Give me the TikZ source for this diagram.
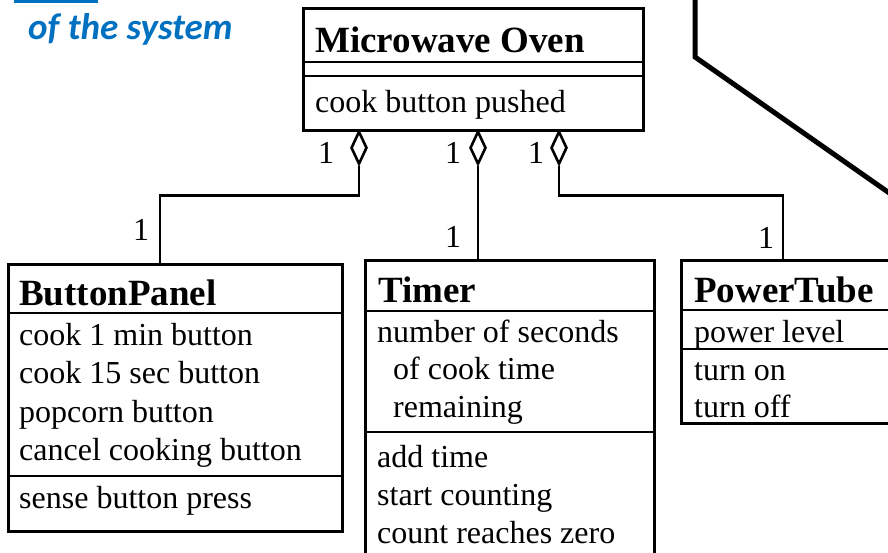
\documentclass[tikz,border=0pt]{standalone}
\usepackage{fontspec}
\setmainfont{Liberation Serif}
\newfontfamily\calib{Carlito}
\usetikzlibrary{shapes.geometric}
\definecolor{titleblue}{RGB}{0,112,192}
\tikzset{
 box/.style={draw, line width=2.6pt, anchor=north west, inner sep=0pt},
 sepline/.style={line width=2.6pt},
 txt/.style={anchor=base west, inner sep=0pt, font=\fontsize{32}{38}\selectfont},
 ttl/.style={anchor=base west, inner sep=0pt, font=\fontsize{37}{44}\selectfont\bfseries},
 mult/.style={inner sep=0pt, font=\fontsize{32}{38}\selectfont},
 agg/.style={draw, fill=white, shape=diamond, line width=2.6pt, inner sep=0pt, minimum width=16pt, minimum height=33pt, anchor=north},
 conn/.style={line width=2.6pt},
}
\begin{document}
\begin{tikzpicture}[x=1pt,y=-1pt]
\useasboundingbox (0,0) rectangle (888,552);
\clip (0,0) rectangle (888,552);
% heading fragment
\fill[titleblue] (14,0) rectangle (98,2.5);
\node[anchor=base west, inner sep=0pt, text=titleblue, font=\calib\fontsize{37}{43}\selectfont\bfseries\itshape] (hdr) at (28,39) {of the system};
% thick outline at top right
\draw[line width=5pt] (695,-10) -- (695,57) -- (905,204);
% Microwave Oven
\node[box, minimum width=340pt, minimum height=122pt] (mw) at (302,7) {};
\draw[sepline] (302,62) -- (642,62);
\draw[sepline] (302,76) -- (642,76);
\node[ttl] (mwt) at (315,52) {Microwave Oven};
\node[txt] (mwa) at (315,112) {cook button pushed};
% ButtonPanel
\node[box, minimum width=334pt, minimum height=267pt] (bp) at (7,263) {};
\draw[sepline] (7,313) -- (341,313);
\draw[sepline] (7,476) -- (341,476);
\node[ttl] (bpt) at (19,305) {ButtonPanel};
\node[txt] (bp1) at (19,345) {cook 1 min button};
\node[txt] (bp2) at (19,383) {cook 15 sec button};
\node[txt] (bp3) at (19,422) {popcorn button};
\node[txt] (bp4) at (19,460) {cancel cooking button};
\node[txt] (bp5) at (19,508) {sense button press};
% Timer
\node[box, minimum width=289pt, minimum height=350pt] (tm) at (364,259) {};
\draw[sepline] (364,311) -- (653,311);
\draw[sepline] (364,432) -- (653,432);
\node[ttl] (tmt) at (378,302) {Timer};
\node[txt] (tm1) at (377,342) {number of seconds};
\node[txt] (tm2) at (393,379) {of cook time};
\node[txt] (tm3) at (393,417) {remaining};
\node[txt] (tm4) at (377,467) {add time};
\node[txt] (tm5) at (377,505) {start counting};
\node[txt] (tm6) at (377,543) {count reaches zero};
% PowerTube
\node[box, minimum width=240pt, minimum height=163pt] (pt) at (680,259) {};
\draw[sepline] (680,310) -- (920,310);
\draw[sepline] (680,349) -- (920,349);
\node[ttl] (ptt) at (694,302) {PowerTube};
\node[txt] (pt1) at (694,342) {power level};
\node[txt] (pt2) at (694,380) {turn on};
\node[txt] (pt3) at (694,417) {turn off};
% connectors
\coordinate (bpin) at (160,263);
\coordinate (tmin) at (478,259);
\coordinate (ptin) at (783,259);
\node[agg] (d1) at (359,130) {};
\node[agg] (d2) at (478,130) {};
\node[agg] (d3) at (559,130) {};
\draw[conn] (d1.south) -- ++(0,30) -| (bpin);
\draw[conn] (d2.south) -- (tmin);
\draw[conn] (d3.south) -- ++(0,30) -| (ptin);
% multiplicities
\node[mult] (m1) at (326,153) {1};
\node[mult] (m2) at (453,153) {1};
\node[mult] (m3) at (536,153) {1};
\node[mult] (m4) at (141,230) {1};
\node[mult] (m5) at (453,237) {1};
\node[mult] (m6) at (766,238) {1};
\end{tikzpicture}
\end{document}
